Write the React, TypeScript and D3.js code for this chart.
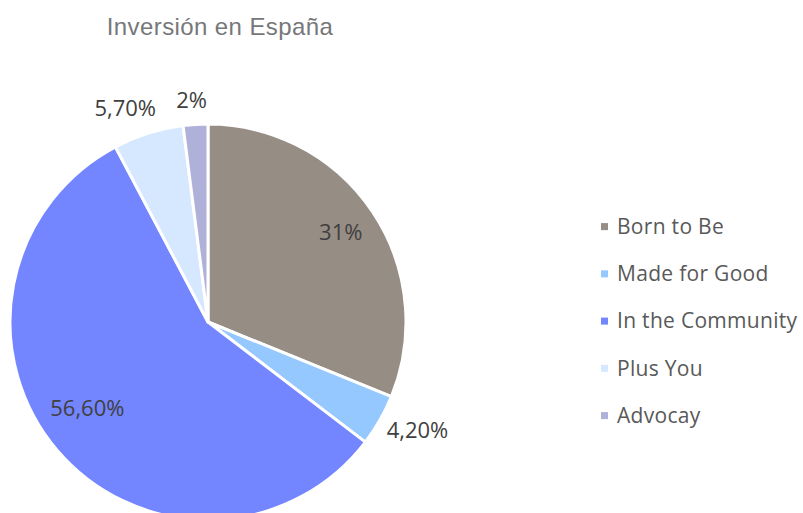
import React from "react";
import * as d3 from "d3";

const categories = ["Born to Be", "Made for Good", "In the Community", "Plus You", "Advocay"];
const values = [31, 4.2, 56.6, 5.7, 2];
const valueLabels = ["31%", "4,20%", "56,60%", "5,70%", "2%"];
const colors = ["#968D84", "#94C8FF", "#7385FF", "#D5E8FF", "#B0B1D9"];
const labelRadiusFactor = [0.808, 1.19, 0.748, 1.159, 1.124];
const labelAngleOffsetDeg = [0, -2.5, 4.8, -3.6, -0.6];

export default function App() {
  const W = 803, H = 513;
  const cx = 208, cy = 322, R = 198;
  const pie = d3.pie<number>().sort(null).value((d) => d);
  const arcs = pie(values);
  const arc = d3.arc<d3.PieArcDatum<number>>().innerRadius(0).outerRadius(R);
  const font = "'Open Sans', 'Noto Sans', sans-serif";
  return (
    <svg width={W} height={H} style={{ position: "absolute", left: 0, top: 0 }}>
      <rect width={W} height={H} fill="#fff" />
      <text x={220} y={35} textAnchor="middle" fontFamily="'Liberation Sans', Arial, sans-serif" fontSize={24} letterSpacing={0.4} fill="#76777A">
        Inversión en España
      </text>
      <g transform={`translate(${cx},${cy})`}>
        {arcs.map((a, i) => (
          <path key={i} d={arc(a) || ""} fill={colors[i]} stroke="#fff" strokeWidth={3} strokeLinejoin="round" />
        ))}
        {arcs.map((a, i) => {
          const mid = (a.startAngle + a.endAngle) / 2 + (labelAngleOffsetDeg[i] * Math.PI) / 180;
          const r = R * labelRadiusFactor[i];
          const x = Math.sin(mid) * r;
          const y = -Math.cos(mid) * r;
          return (
            <text key={i} x={x} y={y} dy="0.35em" textAnchor="middle" fontFamily={font} fontSize={22} fill="#404040">
              {valueLabels[i]}
            </text>
          );
        })}
      </g>
      {categories.map((c, i) => {
        const y = 226.6 + i * 47.25;
        return (
          <g key={c}>
            <rect x={601} y={y - 3.5} width={7} height={7} fill={colors[i]} />
            <text x={617} y={y} dy="0.35em" fontFamily={font} fontSize={21} letterSpacing={0.3} fill="#595959">
              {c}
            </text>
          </g>
        );
      })}
    </svg>
  );
}
